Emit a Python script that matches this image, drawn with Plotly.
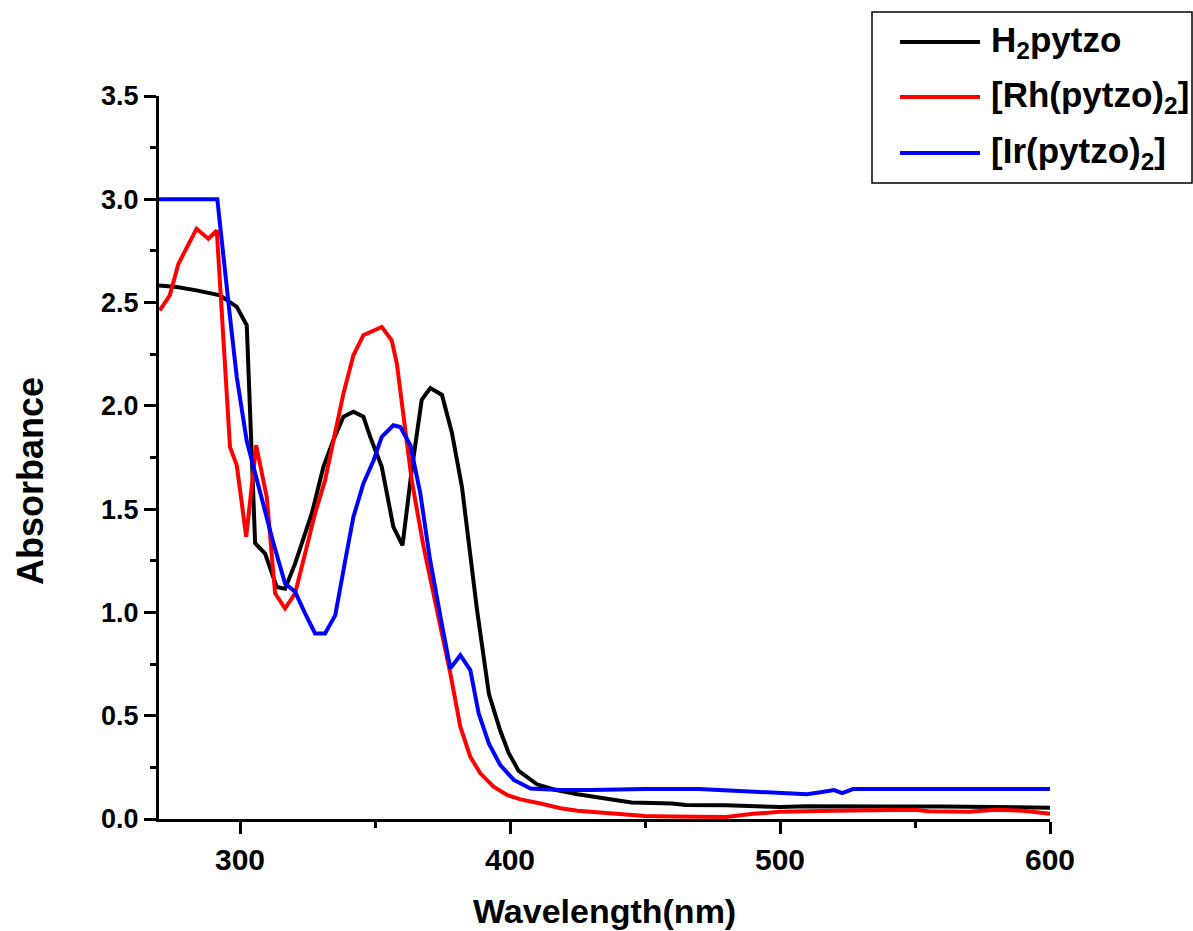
import plotly.graph_objects as go

# ---------------- data ----------------
series_names = ["H<sub>2</sub>pytzo", "[Rh(pytzo)<sub>2</sub>]", "[Ir(pytzo)<sub>2</sub>]"]
series_colors = ["#000000", "#FF0000", "#0000FF"]

h2_x = [270, 276.6, 283.9, 292.6, 298.8, 302.5, 305.6, 309.3, 313.6, 316.7, 320.4, 326.6,
        330.9, 334.6, 338.3, 342.0, 345.7, 348.2, 352.5, 356.8, 360.2, 363.6, 367.3, 370.5,
        374.8, 378.5, 382.2, 385.3, 387.8, 392.2, 396.4, 399.5, 403.2, 410, 416.2, 425, 435,
        445, 460, 465, 480, 490, 500, 510, 520, 540, 560, 570, 580, 590, 600]
h2_y = [2.583, 2.575, 2.559, 2.535, 2.479, 2.39, 1.335, 1.285, 1.123, 1.115, 1.236, 1.479,
        1.705, 1.835, 1.948, 1.972, 1.948, 1.851, 1.705, 1.414, 1.325, 1.689, 2.029, 2.086,
        2.053, 1.869, 1.608, 1.27, 1.01, 0.605, 0.427, 0.32, 0.233, 0.168, 0.143, 0.12, 0.10,
        0.08, 0.075, 0.068, 0.066, 0.06, 0.058, 0.062, 0.06, 0.06, 0.06, 0.058, 0.055, 0.057, 0.055]

rh_x = [270.3, 274, 277.2, 283.9, 288.3, 291.4, 296.3, 298.8, 302.3, 306, 309.9, 313, 316.7,
        320.4, 324.1, 327.8, 331.5, 335.3, 338.3, 342, 345.7, 352.5, 356.2, 358.1, 360.6,
        363.6, 368, 374.2, 377.9, 381.6, 385.3, 389, 393.9, 398.9, 403.9, 411.3, 418.7, 425,
        435, 450, 460, 470, 480, 490, 500, 520, 550, 555, 570, 580, 590, 600]
rh_y = [2.462, 2.535, 2.688, 2.857, 2.809, 2.849, 1.80, 1.713, 1.366, 1.809, 1.559, 1.092,
        1.019, 1.092, 1.285, 1.479, 1.64, 1.866, 2.059, 2.245, 2.342, 2.382, 2.317, 2.204,
        1.93, 1.64, 1.317, 0.93, 0.705, 0.447, 0.301, 0.221, 0.156, 0.116, 0.095, 0.075,
        0.052, 0.04, 0.03, 0.015, 0.012, 0.012, 0.01, 0.025, 0.035, 0.04, 0.045, 0.038,
        0.035, 0.045, 0.04, 0.025]

ir_x = [270, 291.6, 296.3, 298.8, 302.5, 307.4, 312.4, 316.7, 320.4, 324.1, 327.8, 331.5,
        335.3, 339, 342, 345.7, 349.5, 352.5, 356.8, 359.4, 363.1, 366.8, 370.2, 374.5,
        377.9, 381.6, 385.3, 388.4, 392.2, 396.4, 401.4, 407.6, 418.7, 430, 450, 470, 485,
        495, 505, 510, 515, 520, 523, 527, 540, 560, 600]
ir_y = [3.0, 3.0, 2.43, 2.14, 1.83, 1.575, 1.334, 1.14, 1.10, 0.995, 0.898, 0.898,
        0.987, 1.253, 1.462, 1.624, 1.737, 1.85, 1.906, 1.898, 1.809, 1.575, 1.27, 0.96,
        0.729, 0.793, 0.721, 0.511, 0.365, 0.261, 0.189, 0.148, 0.140, 0.14, 0.145, 0.145,
        0.135, 0.13, 0.125, 0.12, 0.13, 0.14, 0.125, 0.145, 0.145, 0.145, 0.145]

x_ticks = [300, 400, 500, 600]
y_ticks = [0.0, 0.5, 1.0, 1.5, 2.0, 2.5, 3.0, 3.5]

# ---------------- figure ----------------
fig = go.Figure()
for xs, ys, name, col in zip([h2_x, rh_x, ir_x], [h2_y, rh_y, ir_y], series_names, series_colors):
    fig.add_trace(go.Scatter(x=xs, y=ys, mode="lines", name=name,
                             line=dict(color=col, width=4), showlegend=False))

L, R, T, B = 159, 143, 96, 112
W, H = 1193, 931
pw, ph = W - L - R, H - T - B

def px(xp):
    return (xp - L) / pw

def py(yp):
    return (H - B - yp) / ph

fig.update_layout(
    width=W, height=H,
    margin=dict(l=L, r=R, t=T, b=B),
    plot_bgcolor="white", paper_bgcolor="white",
    font=dict(family="Liberation Sans, Arial, sans-serif", color="black"),
    xaxis=dict(range=[270, 600], tickvals=x_ticks, ticktext=[str(v) for v in x_ticks],
               showgrid=False, zeroline=False, showline=True, linecolor="black", linewidth=3,
               ticks="outside", ticklen=12, tickwidth=3, tickcolor="black",
               tickfont=dict(family="Liberation Sans", size=30, weight="bold"),
               minor=dict(dtick=50, tick0=300, ticks="outside", ticklen=6, tickwidth=2.5,
                          tickcolor="black", showgrid=False)),
    yaxis=dict(range=[0, 3.5], tickvals=y_ticks, ticktext=[f"{v:.1f}" for v in y_ticks],
               showgrid=False, zeroline=False, showline=True, linecolor="black", linewidth=3,
               ticks="outside", ticklen=12, tickwidth=3, tickcolor="black",
               tickfont=dict(family="Liberation Sans", size=27, weight="bold"),
               minor=dict(dtick=0.25, tick0=0, ticks="outside", ticklen=6, tickwidth=2.5,
                          tickcolor="black", showgrid=False)),
)

# axis titles
fig.add_annotation(text="Wavelength(nm)", xref="paper", yref="paper",
                   x=0.5, y=py(911), xanchor="center", yanchor="middle", showarrow=False,
                   font=dict(size=34, family="Liberation Sans", weight="bold"))
fig.add_annotation(text="Absorbance", xref="paper", yref="paper",
                   x=px(30), y=py(481), xanchor="center", yanchor="middle", showarrow=False,
                   textangle=-90, font=dict(size=36, family="Liberation Sans", weight="bold"))

# legend box (drawn manually)
fig.add_shape(type="rect", xref="paper", yref="paper",
              x0=px(872), x1=px(1192), y0=py(183), y1=py(12),
              line=dict(color="black", width=1.5), fillcolor="white", layer="above")
rows_y = [42, 97, 153]
for name, col, ry in zip(series_names, series_colors, rows_y):
    fig.add_shape(type="line", xref="paper", yref="paper",
                  x0=px(900), x1=px(980), y0=py(ry), y1=py(ry),
                  line=dict(color=col, width=4), layer="above")
    fig.add_annotation(text=name, xref="paper", yref="paper",
                       x=px(989), y=py(ry), xanchor="left", yanchor="middle", showarrow=False,
                       font=dict(size=35, family="Liberation Sans", weight="bold"))

fig.write_html("out.html", config={"displayModeBar": False},
               post_script="document.body.style.margin='0';document.body.style.overflow='hidden';")
